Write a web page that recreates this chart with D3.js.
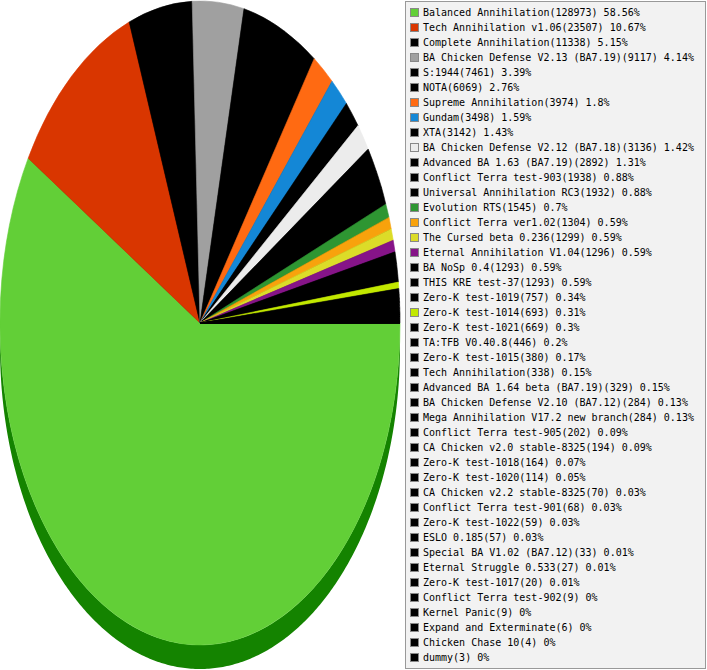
<!DOCTYPE html>
<html>
<head>
<meta charset="utf-8">
<script src="https://cdn.jsdelivr.net/npm/d3@7"></script>
<style>
  html, body { margin: 0; padding: 0; background: #fff; }
  svg { display: block; }
</style>
</head>
<body>
<div id="chart"></div>
<script>
// mod names, game counts and shown percent labels, in legend order
const names = [
  'Balanced Annihilation', 'Tech Annihilation v1.06', 'Complete Annihilation',
  'BA Chicken Defense V2.13 (BA7.19)', 'S:1944', 'NOTA', 'Supreme Annihilation',
  'Gundam', 'XTA', 'BA Chicken Defense V2.12 (BA7.18)', 'Advanced BA 1.63 (BA7.19)',
  'Conflict Terra test-903', 'Universal Annihilation RC3', 'Evolution RTS',
  'Conflict Terra ver1.02', 'The Cursed beta 0.236', 'Eternal Annihilation V1.04',
  'BA NoSp 0.4', 'THIS KRE test-37', 'Zero-K test-1019', 'Zero-K test-1014',
  'Zero-K test-1021', 'TA:TFB V0.40.8', 'Zero-K test-1015', 'Tech Annihilation',
  'Advanced BA 1.64 beta (BA7.19)', 'BA Chicken Defense V2.10 (BA7.12)',
  'Mega Annihilation V17.2 new branch', 'Conflict Terra test-905',
  'CA Chicken v2.0 stable-8325', 'Zero-K test-1018', 'Zero-K test-1020',
  'CA Chicken v2.2 stable-8325', 'Conflict Terra test-901', 'Zero-K test-1022',
  'ESLO 0.185', 'Special BA V1.02 (BA7.12)', 'Eternal Struggle 0.533',
  'Zero-K test-1017', 'Conflict Terra test-902', 'Kernel Panic',
  'Expand and Exterminate', 'Chicken Chase 10', 'dummy'
]
const counts = [
  128973, 23507, 11338, 9117, 7461, 6069, 3974, 3498, 3142, 3136, 2892,
  1938, 1932, 1545, 1304, 1299, 1296, 1293, 1293, 757, 693, 669, 446, 380,
  338, 329, 284, 284, 202, 194, 164, 114, 70, 68, 59, 57, 33, 27, 20, 9, 9, 6, 4, 3
]
const pcts = [
  '58.56', '10.67', '5.15', '4.14', '3.39', '2.76', '1.8', '1.59', '1.43', '1.42', '1.31',
  '0.88', '0.88', '0.7', '0.59', '0.59', '0.59', '0.59', '0.59', '0.34', '0.31', '0.3',
  '0.2', '0.17', '0.15', '0.15', '0.13', '0.13', '0.09', '0.09', '0.07', '0.05', '0.03',
  '0.03', '0.03', '0.03', '0.01', '0.01', '0.01', '0', '0', '0', '0', '0'
]

// colours that are not black
const specialColors = {
  0: '#62cf37',
  1: '#d93600',
  3: '#a0a0a0',
  6: '#ff6a12',
  7: '#1487d6',
  9: '#ececec',
  13: '#2e9632',
  14: '#f8a20c',
  15: '#dcdc28',
  16: '#861488',
  20: '#c2e800',
}
const color = (i) => specialColors[i] || '#000000'
const sideColor = (c) => {
  const h = d3.hsl(c)
  if (h.l < 0.05) return '#000'
  return d3.hsl(h.h + 8, 1, h.l * 0.5).formatHex()
}

const width = 707
const height = 670
const cx = 200
const cy = 323
const rx = 200
const ry = 322
const depth = 24

const svg = d3.select('#chart').append('svg').attr('width', width).attr('height', height)

const data = names.map((name, i) => ({ name, count: counts[i], pct: pcts[i], i }))

// start at 3 o'clock, run clockwise
const pie = d3
  .pie()
  .sort(null)
  .value((d) => d.count)
  .startAngle(Math.PI / 2)
  .endAngle(Math.PI / 2 + 2 * Math.PI)
const arcs = pie(data)

// point on the ellipse for a d3 pie angle (0 = up, clockwise)
const pt = (a, dy = 0) => [cx + rx * Math.sin(a), cy - ry * Math.cos(a) + dy]

// side walls, only the front half (screen angles 0..PI -> pie angles PI/2..3PI/2)
const sides = svg.append('g')
for (const d of arcs) {
  const a0 = Math.max(d.startAngle, Math.PI / 2)
  const a1 = Math.min(d.endAngle, 1.5 * Math.PI)
  if (a1 <= a0) continue
  const steps = Math.max(2, Math.ceil((a1 - a0) / 0.01))
  const top = d3.range(steps + 1).map((k) => pt(a0 + ((a1 - a0) * k) / steps))
  const bottom = top.map(([x, y]) => [x, y + depth]).reverse()
  sides
    .append('path')
    .attr('d', d3.line()(top.concat(bottom)) + 'Z')
    .attr('fill', sideColor(color(d.data.i)))
}

// top face: unit arcs stretched into the ellipse
const face = svg.append('g').attr('transform', `translate(${cx},${cy}) scale(${rx},${ry})`)

// black base under the small slices so the many black ones merge
face
  .append('path')
  .attr('d', d3.arc().innerRadius(0).outerRadius(0.995)({ startAngle: 0, endAngle: Math.PI / 2 + 0.01 }) )
  .attr('fill', '#000')
face
  .append('path')
  .attr('d', d3.arc().innerRadius(0).outerRadius(0.995)({ startAngle: -Math.PI / 2, endAngle: 0.01 }))
  .attr('fill', '#000')

const arc = d3.arc().innerRadius(0).outerRadius(1)
face
  .selectAll('path.slice')
  .data(arcs)
  .enter()
  .append('path')
  .attr('class', 'slice')
  .attr('d', arc)
  .attr('fill', (d) => color(d.data.i))
  .attr('stroke', (d) => color(d.data.i))
  .attr('stroke-width', 0.6)
  .attr('stroke-linejoin', 'round')
  .attr('vector-effect', 'non-scaling-stroke')

// legend
const legend = svg.append('g')
legend
  .append('rect')
  .attr('x', 405.5)
  .attr('y', 1.5)
  .attr('width', 300)
  .attr('height', 667)
  .attr('fill', '#f2f2f2')
  .attr('stroke', '#999')

const rowY = d3
  .scaleLinear()
  .domain([0, names.length - 1])
  .range([12, 657])

const rows = legend
  .selectAll('g.row')
  .data(data)
  .enter()
  .append('g')
  .attr('class', 'row')
  .attr('transform', (d) => `translate(0,${rowY(d.i)})`)

rows
  .append('rect')
  .attr('x', 410.5)
  .attr('y', -3.5)
  .attr('width', 8)
  .attr('height', 8)
  .attr('fill', (d) => color(d.i))
  .attr('stroke', '#888')

rows
  .append('text')
  .attr('x', 423)
  .attr('y', 0)
  .attr('dy', '0.42em')
  .attr('font-family', '"DejaVu Sans Mono", monospace')
  .attr('font-size', '10px')
  .attr('fill', '#000')
  .text((d) => `${d.name}(${d.count}) ${d.pct}%`)
</script>
</body>
</html>
